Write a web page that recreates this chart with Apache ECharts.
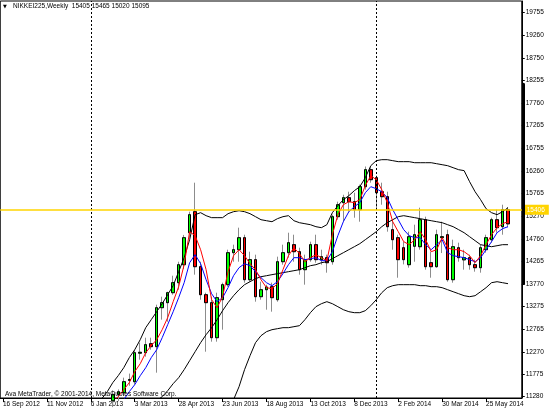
<!DOCTYPE html>
<html><head><meta charset="utf-8">
<script src="https://cdn.jsdelivr.net/npm/echarts@6.0.0/dist/echarts.min.js"></script>
<style>html,body{margin:0;padding:0;background:#fff}#c{width:550px;height:412px}</style>
</head><body><div id="c"></div>
<script>
const symbolName = 'NIKKEI225,Weekly';
const copyright = 'Ava MetaTrader, \u00a9 2001-2014, MetaQuotes Software Corp.';
const categories = ['16 Sep 2012','23 Sep 2012','30 Sep 2012','7 Oct 2012','14 Oct 2012','21 Oct 2012','28 Oct 2012','4 Nov 2012','11 Nov 2012','18 Nov 2012','25 Nov 2012','2 Dec 2012','9 Dec 2012','16 Dec 2012','23 Dec 2012','30 Dec 2012',
'6 Jan 2013','13 Jan 2013','20 Jan 2013','27 Jan 2013','3 Feb 2013','10 Feb 2013','17 Feb 2013','24 Feb 2013','3 Mar 2013','10 Mar 2013','17 Mar 2013','24 Mar 2013','31 Mar 2013','7 Apr 2013','14 Apr 2013','21 Apr 2013','28 Apr 2013','5 May 2013','12 May 2013','19 May 2013','26 May 2013','2 Jun 2013','9 Jun 2013','16 Jun 2013','23 Jun 2013','30 Jun 2013','7 Jul 2013','14 Jul 2013','21 Jul 2013','28 Jul 2013','4 Aug 2013','11 Aug 2013','18 Aug 2013','25 Aug 2013','1 Sep 2013','8 Sep 2013','15 Sep 2013','22 Sep 2013','29 Sep 2013','6 Oct 2013','13 Oct 2013','20 Oct 2013','27 Oct 2013','3 Nov 2013','10 Nov 2013','17 Nov 2013','24 Nov 2013','1 Dec 2013','8 Dec 2013','15 Dec 2013','22 Dec 2013','29 Dec 2013',
'5 Jan 2014','12 Jan 2014','19 Jan 2014','26 Jan 2014','2 Feb 2014','9 Feb 2014','16 Feb 2014','23 Feb 2014','2 Mar 2014','9 Mar 2014','16 Mar 2014','23 Mar 2014','30 Mar 2014','6 Apr 2014','13 Apr 2014','20 Apr 2014','27 Apr 2014','4 May 2014','11 May 2014','18 May 2014','25 May 2014','1 Jun 2014','8 Jun 2014','15 Jun 2014','22 Jun 2014','29 Jun 2014','6 Jul 2014'];

const opens = [9160,9110,8870,8860,8530,9000,8930,9050,8750,9020,9366,9446,9527,9737,9940,10395,10688,10801,10913,10926,
11191,11330,11368,11640,11611,12240,12251,12450,12384,13244,13355,13575,13796,14193,14899,15363,14149,13531,13355,12582,
13421,13752,14458,14524,14789,13862,14304,13487,13641,13708,13421,14259,14458,14635,14480,14083,14304,14635,14304,14348,
14259,15253,15562,15672,15584,15407,15915,16290,16113,15804,15694,14966,14789,14568,14193,14600,14590,15186,14237,14149,
14790,14855,13862,14568,14300,14348,14193,14127,14524,14745,15186,15032,15405];
const highs = [9290,9150,8890,8870,9050,9060,9100,9100,9030,9380,9460,9550,9750,10030,10430,10700,10880,11000,11000,11250,
11420,11440,11700,11790,12317,12472,12582,12582,13310,13487,13597,13950,14259,14850,15363,16003,14259,13575,13487,13575,
13796,14524,14635,15010,14855,14480,14414,13818,13750,13796,14370,14635,14899,14855,14568,14414,14701,14855,14524,14414,
15297,15584,15737,15804,15782,15959,16360,16360,16158,16003,15804,15186,14855,14700,14922,15076,15451,15253,14480,14966,
15142,14966,14745,14679,14524,14414,14304,14635,14855,15230,15407,15517,15465];
const lows = [9040,8860,8740,8530,8530,8900,8870,8750,8620,9000,9300,9390,9500,9730,9900,10390,10400,10600,10480,10900,
11050,11180,11300,11520,11545,12097,12163,12317,11810,12980,12935,13531,13641,14100,14790,13973,13421,12273,12494,12494,
12759,13708,14259,14259,13796,13818,13377,13421,13200,13156,13377,14193,14348,14259,13973,13752,14259,14237,14193,14017,
14193,15186,15142,15363,15230,15142,15848,16003,15407,15517,14922,14524,13906,14200,14127,14259,14524,14083,13906,14127,
14450,13818,13796,14259,14083,14083,14039,14017,14458,14679,14899,14855,15020];
const closes = [9110,8870,8863,8534,9002,8933,9051,8757,9024,9366,9446,9527,9737,9940,10395,10688,10801,10913,10926,11191,
11330,11390,11611,11660,12251,12260,12428,12384,13244,13355,13575,13796,14193,14789,15297,14149,13531,13355,12582,13465,
13752,14458,14524,14789,13862,14304,13487,13641,13700,13465,14259,14458,14679,14480,14083,14304,14635,14304,14370,14237,
15253,15517,15672,15584,15407,15915,16290,16069,15782,15694,15032,14745,14304,14304,14811,14855,15186,14149,14149,14855,
14811,13862,14590,14348,14348,14193,14127,14568,14789,15186,15010,15407,15095];

const maFast = [null,null,null,null,null,null,null,null,null,null,null,null,null,null,null,null,null,null,null,null,
11170,11280,11434,11589,11832,12008,12251,12406,12538,12759,13024,13377,13708,14193,14922,14833,14524,14083,13421,13244,
13487,14039,14392,14524,14392,14215,14083,13862,13686,13664,13774,14083,14392,14568,14436,14259,14348,14414,14348,14282,
14855,15297,15517,15584,15562,15628,15937,16158,16069,15848,15562,15142,14922,14701,14635,14745,14922,14745,14480,14524,
14789,14568,14524,14524,14480,14392,14237,14392,14635,14855,15010,15098,15142];
const maSlow = [null,null,null,null,null,null,null,null,null,null,null,null,null,null,null,null,null,null,null,null,
null,null,11214,11390,11545,11743,11920,12141,12317,12582,12869,13156,13465,13796,14237,14414,14215,13862,13553,13377,
13465,13686,13951,14127,14215,14171,14039,13906,13796,13730,13818,13995,14193,14348,14348,14304,14326,14348,14282,14282,
14480,14833,15142,15363,15473,15562,15782,15915,15870,15804,15672,15407,15186,14966,14833,14789,14789,14635,14524,14635,
14745,14458,14392,14370,14348,14304,14259,14348,14524,14701,14899,14988,15032];
const bbUpper = [null,null,null,null,null,null,null,null,null,null,null,null,null,null,null,null,null,11000,11236,11390,
11590,11745,11920,12141,12317,12538,12803,12979,13156,13332,13531,13730,14039,14348,14745,15297,15341,15275,15231,15231,
15231,15319,15363,15385,15363,15319,15253,15186,15164,15142,15209,15253,15275,15164,15120,15098,15076,15032,15010,15076,
15341,15495,15628,15716,15826,15915,16113,16378,16489,16511,16511,16489,16467,16467,16467,16444,16444,16444,16444,16422,
16400,16378,16334,16290,16269,16025,15804,15628,15429,15341,15297,15363,15451];
const bbMiddle = [null,null,null,null,null,null,null,null,null,null,null,null,null,null,null,null,null,null,null,null,
null,null,null,null,null,null,null,11100,11192,11280,11412,11567,11699,11876,12075,12273,12472,12648,12803,12979,
13178,13355,13509,13641,13752,13818,13884,13928,13950,13973,13995,14017,14039,14061,14083,14127,14171,14193,14237,14259,
14326,14392,14458,14524,14590,14657,14745,14833,14922,15032,15120,15186,15253,15275,15253,15231,15209,15186,15164,15142,
15120,15076,15032,14966,14899,14811,14723,14635,14612,14590,14612,14635,14635];
const bbLower = [null,null,null,null,null,null,null,null,null,null,null,null,null,null,null,null,null,null,null,null,
null,null,null,null,null,null,null,null,null,null,null,null,null,null,null,null,null,null,null,null,
11000,11103,11214,11500,11876,12185,12472,12626,12715,12759,12781,12803,12803,12825,12847,12979,13134,13266,13332,13377,
13332,13266,13200,13156,13134,13134,13178,13288,13421,13575,13686,13730,13752,13752,13752,13752,13730,13730,13708,13708,
13686,13641,13597,13553,13509,13487,13509,13597,13686,13796,13818,13796,13774];

const yTickLabels = [11280,11775,12270,12765,13275,13770,14265,14760,15270,15765,16260,16755,17265,17760,18255,18750,19260,19755];
const levelLine = 15406;
const separators = ['6 Jan 2013','5 Jan 2014'];
const scaleBarRange = [13783, 18175];

const FONT = '"Liberation Sans", Arial, sans-serif';
const W = 550, H = 412;
const GRID = { left: -0.75, right: 28.25, top: 1, bottom: 14 };
const Y_MIN = 11251, Y_MAX = 20013;
const last = opens.length - 1;
const every8 = (i) => i % 8 === 0;
const wickData = opens.map((o, i) => [o, closes[i], lows[i], highs[i]]);
const bodyData = opens.map((o, i) => [o, closes[i], Math.min(o, closes[i]), Math.max(o, closes[i])]);
const lineSeries = (name, data, color) => ({
  type: 'line', name, data, symbol: 'none', showSymbol: false, smooth: false,
  lineStyle: { color, width: 1 }, itemStyle: { color }, z: 4, silent: true, clip: true, connectNulls: false
});
const boxLabel = (text, bg) => ({
  show: true, position: 'end', distance: 2, formatter: text, backgroundColor: bg,
  color: '#fff', fontSize: 6.5, fontFamily: FONT, padding: [2, 4, 1, 3]
});
// the price-scale bar on the right axis: a thin second grid spanning that price range
const plotH = H - GRID.top - GRID.bottom;
const priceToY = (v) => GRID.top + (Y_MAX - v) / (Y_MAX - Y_MIN) * plotH;
const xRight = W - GRID.right;
const barTop = priceToY(scaleBarRange[1]);
const barBot = priceToY(scaleBarRange[0]);

const chart = echarts.init(document.getElementById('c'));
chart.setOption({
  animation: false,
  backgroundColor: '#fff',
  grid: [
    Object.assign({ show: true, borderColor: '#000', borderWidth: 1 }, GRID),
    { left: xRight + 1, width: 1, top: barTop, height: barBot - barTop, show: false }
  ],
  xAxis: [{
    type: 'category', data: categories, boundaryGap: true,
    axisLine: { show: true, lineStyle: { color: '#000' } },
    axisTick: { show: true, alignWithLabel: true, interval: every8, length: 4, lineStyle: { color: '#000' } },
    axisLabel: { interval: every8, align: 'left', margin: 3, fontSize: 6.5, fontFamily: FONT, color: '#000' },
    splitLine: { show: false }
  }, { type: 'value', gridIndex: 1, show: false, min: 0, max: 1 }],
  yAxis: [{
    type: 'value', position: 'right', min: Y_MIN, max: Y_MAX,
    axisLine: { show: true, lineStyle: { color: '#000' } },
    axisTick: { show: true, length: 3, customValues: yTickLabels, lineStyle: { color: '#000' } },
    axisLabel: { customValues: yTickLabels, formatter: (v) => String(v), fontSize: 6.5, fontFamily: FONT, color: '#000', margin: 4 },
    splitLine: { show: false }
  }, {
    type: 'value', gridIndex: 1, position: 'left', min: scaleBarRange[0], max: scaleBarRange[1], z: 10,
    axisLine: { show: true, onZero: false, lineStyle: { color: '#000', width: 3 } },
    axisTick: { show: false }, axisLabel: { show: false }, splitLine: { show: false }
  }],
  graphic: {
    elements: [
      { id: 'tri', type: 'text', left: 3, top: 4, z: 20, style: { text: '\u25BC', font: '5px "DejaVu Sans"', fill: '#000' } },
      { id: 'title', type: 'text', left: 13, top: 3, z: 20, style: { text: symbolName + '  ' + [opens[last], highs[last], lows[last], closes[last]].join(' '), font: '6.5px ' + FONT, fill: '#000' } },
      { id: 'copy', type: 'text', left: 5, top: 391, z: 20, style: { text: copyright, font: '6.5px ' + FONT, fill: '#000' } }
    ]
  },
  series: [
    { type: 'candlestick', name: 'wicks', data: wickData, barWidth: 3, z: 2, silent: true, clip: true,
      itemStyle: { color: '#8c8c8c', color0: '#8c8c8c', borderColor: '#8c8c8c', borderColor0: '#8c8c8c', borderWidth: 1 } },
    { type: 'candlestick', name: 'bodies', data: bodyData, barWidth: 3, z: 3, silent: true, clip: true,
      itemStyle: { color: '#00ff00', color0: '#ff0000', borderColor: '#000', borderColor0: '#000', borderWidth: 1 } },
    lineSeries('BB upper', bbUpper, '#000'),
    lineSeries('BB middle', bbMiddle, '#000'),
    lineSeries('BB lower', bbLower, '#000'),
    lineSeries('MA slow', maSlow, '#0000ff'),
    lineSeries('MA fast', maFast, '#ff0000'),
    { type: 'line', name: 'levels', data: [], clip: false, silent: true, z: 6, symbol: 'none',
      markLine: {
        silent: true, symbol: ['none', 'none'], animation: false,
        data: [
          { xAxis: separators[0], lineStyle: { color: '#000', type: [2, 2], width: 1 }, label: { show: false } },
          { xAxis: separators[1], lineStyle: { color: '#000', type: [2, 2], width: 1 }, label: { show: false } },
          { yAxis: levelLine, lineStyle: { color: '#ffd400', width: 1.5, type: 'solid' }, label: boxLabel(String(levelLine), '#ffd400') },
          { yAxis: closes[last], lineStyle: { opacity: 0 }, label: boxLabel(String(closes[last]), '#000') }
        ]
      }
    }
  ]
});
</script></body></html>
